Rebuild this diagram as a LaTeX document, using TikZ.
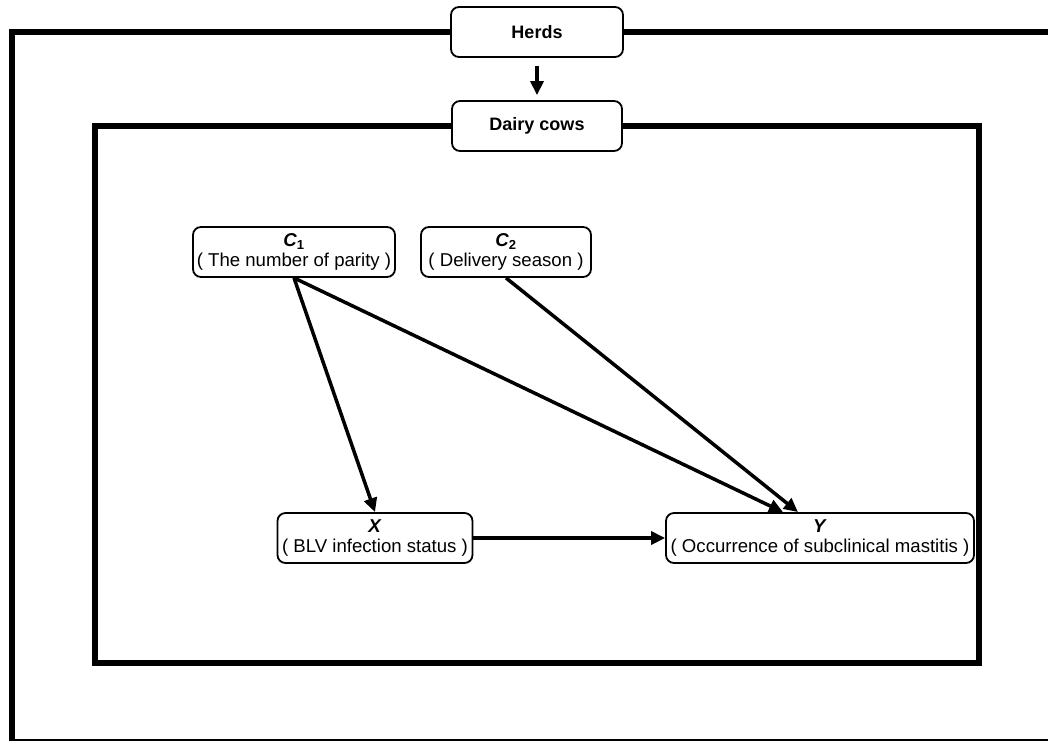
\documentclass[tikz,border=0pt]{standalone}
\usepackage{fontspec}
\setmainfont{Liberation Sans}
\usetikzlibrary{arrows.meta}
\tikzset{
	box/.style      = {shape=rectangle, rounded corners=8pt,
		draw, line width=1.8pt, align=center,
		inner sep=0pt, minimum height=50pt},
	stage/.style    = {box, font=\fontsize{18}{18}\selectfont\bfseries},
	var/.style      = {box, font=\fontsize{18.6}{20}\selectfont},
	enclosure/.style = {draw, line width=6pt},
	effect/.style   = {draw, line width=3.5pt, -{Triangle[length=14pt,width=13pt]}}
}
\begin{document}
\begin{tikzpicture}
[
x                 = 1pt,
y                 = -1pt,
every node/.style = {font=\fontsize{18}{18}\selectfont}
]
\useasboundingbox (0,0) rectangle (1048,740);
\node [stage, minimum width=172pt] (herds) at (537,32) {Herds};
\node [stage, minimum width=170pt] (dairy) at (537,126) {Dairy cows};
\node [var, minimum width=202pt] (c1) at (294,252)
	{\textbf{\textit{C}\textsubscript{1}}\\( The number of parity )};
\node [var, minimum width=170pt] (c2) at (506,252)
	{\textbf{\textit{C}\textsubscript{2}}\\( Delivery season )};
\node [var, minimum width=195pt] (xvar) at (375,538)
	{\textbf{\textit{X}}\\( BLV infection status )};
\node [var, minimum width=308pt] (yvar) at (820,538)
	{\textbf{\textit{Y}}\\( Occurrence of subclinical mastitis )};
\draw [enclosure] (herds.west) -- (12,32) -- (12,742) -- (1060,742);
\draw [enclosure] (herds.east) -- (1060,32);
\draw [enclosure] (dairy.west) -- (95,126) -- (95,663) -- (979,663)
	-- (979,126) -- (dairy.east);
\draw [effect, shorten <=8pt, shorten >=5pt] (herds) -- (dairy);
\draw [effect] (c1.south) -- (xvar.north);
\draw [effect] (c1.south) -- ([xshift=-37pt]yvar.north);
\draw [effect] (c2.south) -- ([xshift=-22pt]yvar.north);
\draw [effect] (xvar.east) -- (yvar.west);
\end{tikzpicture}
\end{document}
